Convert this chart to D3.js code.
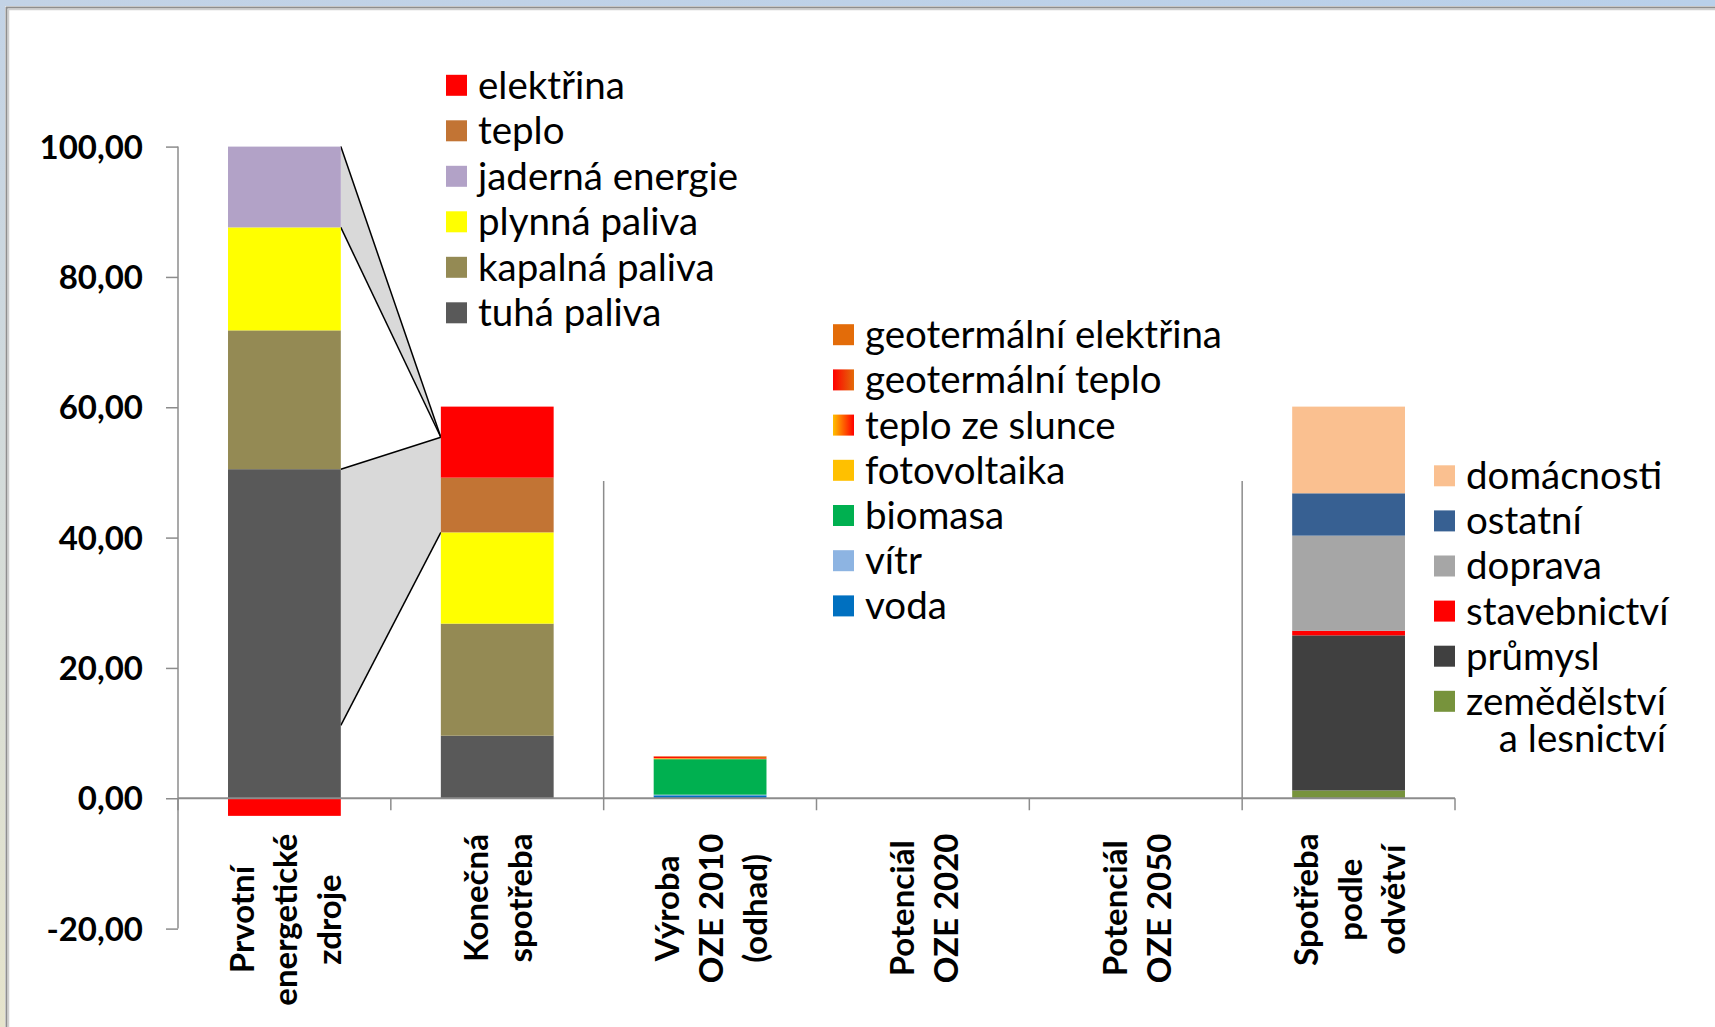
<!DOCTYPE html>
<html lang="cs">
<head>
<meta charset="utf-8">
<script src="https://cdn.jsdelivr.net/npm/d3@7"></script>
<style>
  body { margin: 0; background: #fff; }
  svg { display: block; }
  text { font-family: Lato, "Open Sans", sans-serif; fill: #000; }
</style>
</head>
<body>
<div id="chart"></div>
<script>
// Categories on the x axis (each label is split in lines)
var categoryLines = [
  ["Prvotní", "energetické", "zdroje"],
  ["Konečná", "spotřeba"],
  ["Výroba", "OZE 2010", "(odhad)"],
  ["Potenciál", "OZE 2020"],
  ["Potenciál", "OZE 2050"],
  ["Spotřeba", "podle", "odvětví"]
];

// Fuels - primary sources and final consumption
var fuelKeys = ["tuhá paliva", "kapalná paliva", "plynná paliva", "jaderná energie", "teplo", "elektřina"];
var primarySources = [50.5, 21.3, 15.8, 12.4, 0, -2.7];
var finalConsumption = [9.6, 17.2, 14.0, 0, 8.4, 10.9];

// Renewables (OZE)
var renewableKeys = ["voda", "vítr", "biomasa", "fotovoltaika", "teplo ze slunce", "geotermální teplo", "geotermální elektřina"];
var renewables2010 = [0.45, 0.1, 5.45, 0.05, 0.1, 0.25, 0.05];
var renewables2020 = [0, 0, 0, 0, 0, 0, 0];
var renewables2050 = [0, 0, 0, 0, 0, 0, 0];

// Consumption by sector
var sectorKeys = ["zemědělství a lesnictví", "průmysl", "stavebnictví", "doprava", "ostatní", "domácnosti"];
var sectorConsumption = [1.2, 23.8, 0.7, 14.6, 6.5, 13.3];

// Connector shapes between the first two bars
var nuclearWedge = [100, 87.6, 55.4];          // source top, source bottom, target point
var conversionBand = [50.5, 11.2, 55.4, 40.8]; // source top, source bottom, target top, target bottom
var separatorTop = 48.7;

var yTicks = [-20, 0, 20, 40, 60, 80, 100];

var width = 1715, height = 1027;

var svg = d3.select("#chart").append("svg")
  .attr("width", width)
  .attr("height", height);

var defs = svg.append("defs");

// window frame around the chart
var topGrad = defs.append("linearGradient").attr("id", "topband");
topGrad.append("stop").attr("offset", "0%").attr("stop-color", "#c3d3e6");
topGrad.append("stop").attr("offset", "100%").attr("stop-color", "#b9d0ea");
var leftGrad = defs.append("linearGradient").attr("id", "leftband")
  .attr("x1", 0).attr("y1", 0).attr("x2", 0).attr("y2", 1);
leftGrad.append("stop").attr("offset", "0%").attr("stop-color", "#c3d3e6");
leftGrad.append("stop").attr("offset", "100%").attr("stop-color", "#e6e4cc");

svg.append("rect").attr("x", 0).attr("y", 0).attr("width", width).attr("height", 6).attr("fill", "url(#topband)");
svg.append("rect").attr("x", 0).attr("y", 0).attr("width", 5).attr("height", height).attr("fill", "url(#leftband)");
svg.append("path").attr("d", "M6.5," + height + "V7.5H" + width)
  .attr("fill", "none").attr("stroke", "#8e8e8e").attr("stroke-width", 2);
svg.append("path").attr("d", "M8.5," + height + "V9.5H" + width)
  .attr("fill", "none").attr("stroke", "#cfcfcf").attr("stroke-width", 1.5);

// gradients used by two renewables
var geoHeat = defs.append("linearGradient").attr("id", "geoheat");
geoHeat.append("stop").attr("offset", "0%").attr("stop-color", "#ff0000");
geoHeat.append("stop").attr("offset", "100%").attr("stop-color", "#e36c09");
var solarHeat = defs.append("linearGradient").attr("id", "solarheat");
solarHeat.append("stop").attr("offset", "0%").attr("stop-color", "#ffc000");
solarHeat.append("stop").attr("offset", "100%").attr("stop-color", "#ff0000");

var fuelColor = d3.scaleOrdinal().domain(fuelKeys)
  .range(["#595959", "#948a54", "#ffff00", "#b2a2c7", "#c27434", "#ff0000"]);
var renewableColor = d3.scaleOrdinal().domain(renewableKeys)
  .range(["#0070c0", "#8db4e2", "#00b050", "#ffc000", "url(#solarheat)", "url(#geoheat)", "#e36c09"]);
var sectorColor = d3.scaleOrdinal().domain(sectorKeys)
  .range(["#77933c", "#404040", "#ff0000", "#a6a6a6", "#376092", "#fac090"]);

// Scales
var x = d3.scaleBand()
  .domain(d3.range(categoryLines.length))
  .range([178, 1455]);
var barWidth = x.bandwidth() * 0.53;
var barX = function (i) { return x(i) + (x.bandwidth() - barWidth) / 2; };

var y = d3.scaleLinear()
  .domain([-20, 100])
  .range([928.6, 146.6]);

// build stack tables
function row(cat, keys, values) {
  var r = { cat: cat };
  keys.forEach(function (k, i) { r[k] = values[i]; });
  return r;
}
var groups = [
  { keys: fuelKeys, color: fuelColor, rows: [row(0, fuelKeys, primarySources), row(1, fuelKeys, finalConsumption)] },
  { keys: renewableKeys, color: renewableColor, rows: [row(2, renewableKeys, renewables2010), row(3, renewableKeys, renewables2020), row(4, renewableKeys, renewables2050)] },
  { keys: sectorKeys, color: sectorColor, rows: [row(5, sectorKeys, sectorConsumption)] }
];

// connector shapes (drawn under the bars)
var srcX = barX(0) + barWidth, dstX = barX(1);
var conn = svg.append("g");
conn.append("path")
  .attr("d", d3.line()([[srcX, y(nuclearWedge[0])], [dstX, y(nuclearWedge[2])], [srcX, y(nuclearWedge[1])]]) + "Z")
  .attr("fill", "#d9d9d9");
conn.append("path")
  .attr("d", d3.line()([[srcX, y(conversionBand[0])], [dstX, y(conversionBand[2])], [dstX, y(conversionBand[3])], [srcX, y(conversionBand[1])]]) + "Z")
  .attr("fill", "#d9d9d9");
var edges = [
  [[srcX, y(nuclearWedge[0])], [dstX, y(nuclearWedge[2])]],
  [[srcX, y(nuclearWedge[1])], [dstX, y(nuclearWedge[2])]],
  [[srcX, y(conversionBand[0])], [dstX, y(conversionBand[2])]],
  [[srcX, y(conversionBand[1])], [dstX, y(conversionBand[3])]]
];
conn.selectAll("path.edge").data(edges).enter().append("path")
  .attr("class", "edge")
  .attr("d", d3.line())
  .attr("fill", "none")
  .attr("stroke", "#000")
  .attr("stroke-width", 1.5);

// axes lines
var axisColor = "#8c8c8c";
var gy = svg.append("g").attr("transform", "translate(178,0)")
  .call(d3.axisLeft(y).tickValues(yTicks).tickSize(12).tickFormat(function (d) {
    return d3.format(".2f")(d).replace(".", ",").replace("\u2212", "-");
  }));
gy.select(".domain").attr("stroke", axisColor).attr("stroke-width", 1.5).attr("d", "M0," + y(100) + "V" + y(-20));
gy.selectAll(".tick line").attr("stroke", axisColor).attr("stroke-width", 1.5);
gy.selectAll(".tick text")
  .attr("x", -35)
  .attr("dy", "0.35em")
  .style("font-family", "Lato, sans-serif")
  .style("font-weight", "bold")
  .style("font-size", "33px")
  .attr("fill", "#000");

var boundaries = d3.range(categoryLines.length + 1).map(function (i) { return 178 + i * x.bandwidth(); });

// stacked bars
groups.forEach(function (g) {
  var series = d3.stack().keys(g.keys).offset(d3.stackOffsetDiverging)(g.rows);
  svg.append("g").selectAll("g")
    .data(series)
    .enter().append("g")
    .attr("fill", function (s) { return g.color(s.key); })
    .selectAll("rect")
    .data(function (s) { return s; })
    .enter().append("rect")
    .attr("x", function (d) { return barX(d.data.cat); })
    .attr("width", barWidth)
    .attr("y", function (d) { return y(Math.max(d[0], d[1])); })
    .attr("height", function (d) { return Math.abs(y(d[0]) - y(d[1])); });
});

// x axis and separators
svg.append("line")
  .attr("x1", 178).attr("x2", 1455)
  .attr("y1", y(0)).attr("y2", y(0))
  .attr("stroke", axisColor).attr("stroke-width", 2);
svg.selectAll("line.xtick").data(boundaries).enter().append("line")
  .attr("class", "xtick")
  .attr("x1", function (d) { return d; }).attr("x2", function (d) { return d; })
  .attr("y1", y(0)).attr("y2", y(0) + 12)
  .attr("stroke", axisColor).attr("stroke-width", 1.5);
svg.selectAll("line.sep").data([boundaries[2], boundaries[5]]).enter().append("line")
  .attr("class", "sep")
  .attr("x1", function (d) { return d; }).attr("x2", function (d) { return d; })
  .attr("y1", y(separatorTop)).attr("y2", y(0))
  .attr("stroke", axisColor).attr("stroke-width", 1.5);

// category labels (rotated)
var labelTop = 833.5, lineGap = 43.8;
categoryLines.forEach(function (lines, i) {
  var cx = x(i) + x.bandwidth() / 2;
  var g = svg.append("g");
  var texts = g.selectAll("text").data(lines).enter().append("text")
    .style("font-weight", "bold")
    .style("font-size", "33px")
    .attr("text-anchor", "middle")
    .attr("dominant-baseline", "central")
    .text(function (d) { return d; });
  var maxLen = d3.max(texts.nodes(), function (n) { return n.getComputedTextLength(); });
  var cy = labelTop + maxLen / 2;
  texts.attr("transform", function (d, j) {
    var lx = cx + (j - (lines.length - 1) / 2) * lineGap;
    return "translate(" + lx + "," + cy + ") rotate(-90)";
  });
});

// legends
function legend(keys, color, left, top, gap) {
  var items = keys.slice().reverse();
  var g = svg.append("g");
  var item = g.selectAll("g").data(items).enter().append("g")
    .attr("transform", function (d, i) { return "translate(" + left + "," + (top + i * gap) + ")"; });
  item.append("rect")
    .attr("x", 0).attr("y", -10.5)
    .attr("width", 21).attr("height", 21)
    .attr("fill", function (d) { return color(d); });
  item.each(function (d) {
    var parts = d === "zemědělství a lesnictví" ? ["zemědělství", "a lesnictví"] : [d];
    var t = d3.select(this).append("text")
      .style("font-size", "38.5px");
    var first = t.append("tspan")
      .attr("x", 32).attr("dy", "0.35em")
      .text(parts[0]);
    if (parts.length > 1) {
      // second line is right-aligned with the first one
      var end = 32 + first.node().getComputedTextLength();
      t.append("tspan")
        .attr("x", end).attr("y", 37).attr("dy", "0.35em")
        .attr("text-anchor", "end")
        .text(parts[1]);
    }
  });
}
legend(fuelKeys, fuelColor, 446, 85.3, 45.5);
legend(renewableKeys, renewableColor, 833, 334.7, 45.2);
legend(sectorKeys, sectorColor, 1434, 475.8, 45.1);
</script>
</body>
</html>
